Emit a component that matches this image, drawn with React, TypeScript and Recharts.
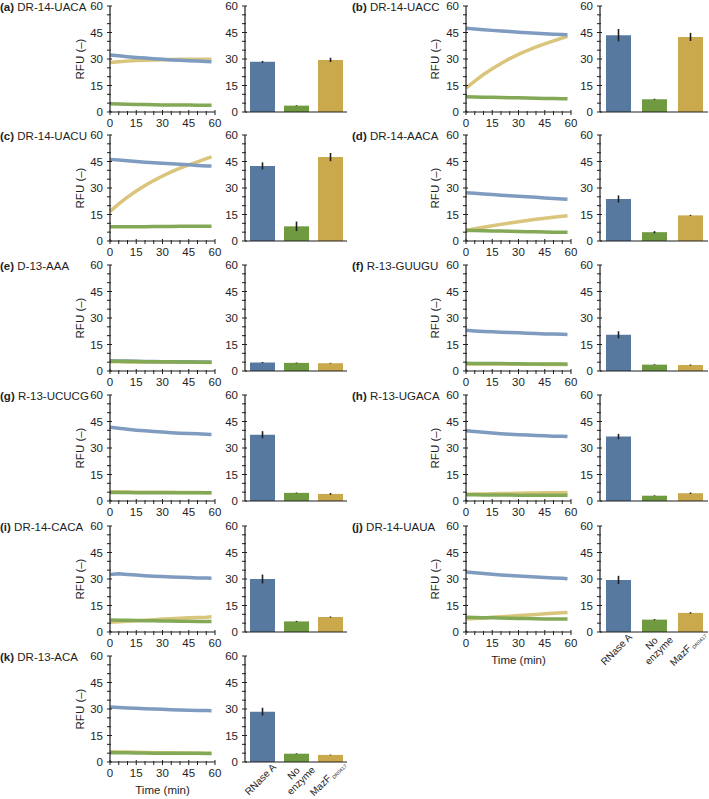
import { LineChart, Line, XAxis, YAxis, BarChart, Bar, Cell, ErrorBar } from "recharts";

// sampling times (min) of the kinetic traces
const TIMES = [0, 5, 10, 15, 20, 25, 30, 35, 40, 45, 50, 55, 58];
const TICKS = [0, 5, 10, 15, 20, 25, 30, 35, 40, 45, 50, 55, 60];
const GROUPS = ["RNase A", "No enzyme", "MazF"];

// (a) DR-14-UACA
const UACA_RNASE = [32.3, 31.8, 31.3, 30.9, 30.5, 30.1, 29.8, 29.5, 29.3, 29.0, 28.8, 28.6, 28.5];
const UACA_NONE = [4.6, 4.5, 4.4, 4.3, 4.2, 4.1, 4.0, 4.0, 3.9, 3.9, 3.8, 3.8, 3.8];
const UACA_MAZF = [28.0, 28.4, 28.8, 29.1, 29.3, 29.5, 29.6, 29.7, 29.8, 29.8, 29.9, 29.9, 29.9];
const UACA_BARS = [28.4, 3.6, 29.5];
const UACA_ERR = [0.5, 0.2, 1.2];

// (b) DR-14-UACC
const UACC_RNASE = [47.4, 47.0, 46.6, 46.2, 45.8, 45.5, 45.2, 44.9, 44.6, 44.3, 44.0, 43.8, 43.7];
const UACC_NONE = [8.6, 8.5, 8.4, 8.3, 8.2, 8.1, 8.0, 7.9, 7.8, 7.7, 7.6, 7.5, 7.5];
const UACC_MAZF = [13.5, 17.5, 21.2, 24.5, 27.5, 30.2, 32.6, 34.8, 36.8, 38.6, 40.3, 41.9, 42.8];
const UACC_BARS = [43.5, 7.2, 42.5];
const UACC_ERR = [3.5, 0.3, 2.3];

// (c) DR-14-UACU
const UACU_RNASE = [46.2, 45.8, 45.4, 45.0, 44.6, 44.3, 44.0, 43.7, 43.4, 43.1, 42.8, 42.5, 42.4];
const UACU_NONE = [8.0, 8.0, 8.1, 8.1, 8.1, 8.2, 8.2, 8.2, 8.3, 8.3, 8.3, 8.4, 8.4];
const UACU_MAZF = [16.8, 21.0, 24.8, 28.3, 31.4, 34.2, 36.8, 39.1, 41.2, 43.1, 44.8, 46.6, 47.6];
const UACU_BARS = [42.5, 8.3, 47.5];
const UACU_ERR = [2.0, 2.7, 2.3];

// (d) DR-14-AACA
const AACA_RNASE = [27.3, 27.0, 26.6, 26.3, 25.9, 25.6, 25.3, 25.0, 24.7, 24.4, 24.1, 23.8, 23.6];
const AACA_NONE = [6.0, 5.9, 5.8, 5.7, 5.6, 5.5, 5.4, 5.3, 5.2, 5.1, 5.0, 5.0, 4.9];
const AACA_MAZF = [6.0, 6.9, 7.8, 8.6, 9.4, 10.2, 10.9, 11.6, 12.3, 12.9, 13.5, 14.0, 14.3];
const AACA_BARS = [23.8, 5.0, 14.5];
const AACA_ERR = [2.0, 0.6, 0.3];

// (e) D-13-AAA
const AAA_RNASE = [5.8, 5.7, 5.6, 5.5, 5.4, 5.4, 5.3, 5.3, 5.2, 5.2, 5.1, 5.1, 5.0];
const AAA_NONE = [5.5, 5.5, 5.4, 5.4, 5.3, 5.3, 5.2, 5.2, 5.1, 5.1, 5.0, 5.0, 5.0];
const AAA_MAZF = [5.2, 5.2, 5.1, 5.1, 5.1, 5.0, 5.0, 5.0, 4.9, 4.9, 4.9, 4.8, 4.8];
const AAA_BARS = [4.8, 4.6, 4.4];
const AAA_ERR = [0.3, 0.2, 0.2];

// (f) R-13-GUUGU
const GUUGU_RNASE = [23.0, 22.7, 22.4, 22.2, 22.0, 21.8, 21.6, 21.4, 21.2, 21.0, 20.9, 20.8, 20.7];
const GUUGU_NONE = [4.4, 4.3, 4.3, 4.2, 4.2, 4.1, 4.1, 4.0, 4.0, 3.9, 3.9, 3.9, 3.8];
const GUUGU_MAZF = [4.0, 4.0, 4.0, 3.9, 3.9, 3.9, 3.8, 3.8, 3.8, 3.7, 3.7, 3.7, 3.7];
const GUUGU_BARS = [20.5, 3.6, 3.4];
const GUUGU_ERR = [2.0, 0.2, 0.3];

// (g) R-13-UCUCG
const UCUCG_RNASE = [41.8, 41.2, 40.6, 40.1, 39.7, 39.3, 39.0, 38.7, 38.4, 38.2, 38.0, 37.8, 37.7];
const UCUCG_NONE = [4.8, 4.8, 4.8, 4.7, 4.7, 4.7, 4.7, 4.6, 4.6, 4.6, 4.6, 4.6, 4.6];
const UCUCG_MAZF = [5.2, 5.1, 5.1, 5.0, 5.0, 4.9, 4.9, 4.9, 4.8, 4.8, 4.8, 4.7, 4.7];
const UCUCG_BARS = [37.5, 4.6, 4.0];
const UCUCG_ERR = [2.0, 0.2, 0.5];

// (h) R-13-UGACA
const UGACA_RNASE = [39.8, 39.3, 38.9, 38.5, 38.1, 37.8, 37.5, 37.3, 37.1, 36.9, 36.7, 36.6, 36.5];
const UGACA_NONE = [3.5, 3.5, 3.4, 3.4, 3.4, 3.4, 3.3, 3.3, 3.3, 3.3, 3.3, 3.3, 3.3];
const UGACA_MAZF = [3.8, 3.9, 4.0, 4.1, 4.2, 4.3, 4.4, 4.5, 4.5, 4.6, 4.7, 4.7, 4.8];
const UGACA_BARS = [36.5, 3.0, 4.4];
const UGACA_ERR = [1.5, 0.2, 0.4];

// (i) DR-14-CACA
const CACA_RNASE = [32.5, 33.0, 32.6, 32.2, 31.9, 31.6, 31.4, 31.2, 31.0, 30.8, 30.6, 30.5, 30.4];
const CACA_NONE = [6.8, 6.7, 6.6, 6.5, 6.4, 6.3, 6.2, 6.2, 6.1, 6.1, 6.0, 6.0, 6.0];
const CACA_MAZF = [5.5, 5.8, 6.1, 6.4, 6.7, 7.0, 7.3, 7.5, 7.8, 8.0, 8.2, 8.4, 8.6];
const CACA_BARS = [30.0, 6.0, 8.5];
const CACA_ERR = [2.5, 0.3, 0.3];

// (j) DR-14-UAUA
const UAUA_RNASE = [34.0, 33.5, 33.1, 32.7, 32.3, 32.0, 31.7, 31.4, 31.1, 30.8, 30.6, 30.4, 30.2];
const UAUA_NONE = [8.3, 8.2, 8.1, 8.0, 7.9, 7.8, 7.7, 7.6, 7.5, 7.4, 7.4, 7.3, 7.3];
const UAUA_MAZF = [7.3, 7.6, 7.9, 8.3, 8.6, 8.9, 9.3, 9.6, 9.9, 10.3, 10.6, 10.9, 11.1];
const UAUA_BARS = [29.5, 7.0, 10.8];
const UAUA_ERR = [2.3, 0.3, 0.4];

// (k) DR-13-ACA
const ACA_RNASE = [31.2, 30.9, 30.6, 30.4, 30.2, 30.0, 29.8, 29.6, 29.5, 29.3, 29.2, 29.1, 29.0];
const ACA_NONE = [5.3, 5.2, 5.2, 5.1, 5.1, 5.0, 5.0, 5.0, 4.9, 4.9, 4.9, 4.8, 4.8];
const ACA_MAZF = [5.8, 5.7, 5.6, 5.5, 5.4, 5.3, 5.3, 5.2, 5.1, 5.1, 5.0, 5.0, 4.9];
const ACA_BARS = [28.5, 4.7, 4.0];
const ACA_ERR = [2.2, 0.2, 0.2];

const PANELS = [
  { tag: "a", name: "DR-14-UACA", rnase: UACA_RNASE, none: UACA_NONE, mazf: UACA_MAZF, bars: UACA_BARS, err: UACA_ERR },
  { tag: "b", name: "DR-14-UACC", rnase: UACC_RNASE, none: UACC_NONE, mazf: UACC_MAZF, bars: UACC_BARS, err: UACC_ERR },
  { tag: "c", name: "DR-14-UACU", rnase: UACU_RNASE, none: UACU_NONE, mazf: UACU_MAZF, bars: UACU_BARS, err: UACU_ERR },
  { tag: "d", name: "DR-14-AACA", rnase: AACA_RNASE, none: AACA_NONE, mazf: AACA_MAZF, bars: AACA_BARS, err: AACA_ERR },
  { tag: "e", name: "D-13-AAA", rnase: AAA_RNASE, none: AAA_NONE, mazf: AAA_MAZF, bars: AAA_BARS, err: AAA_ERR },
  { tag: "f", name: "R-13-GUUGU", rnase: GUUGU_RNASE, none: GUUGU_NONE, mazf: GUUGU_MAZF, bars: GUUGU_BARS, err: GUUGU_ERR },
  { tag: "g", name: "R-13-UCUCG", rnase: UCUCG_RNASE, none: UCUCG_NONE, mazf: UCUCG_MAZF, bars: UCUCG_BARS, err: UCUCG_ERR },
  { tag: "h", name: "R-13-UGACA", rnase: UGACA_RNASE, none: UGACA_NONE, mazf: UGACA_MAZF, bars: UGACA_BARS, err: UGACA_ERR },
  { tag: "i", name: "DR-14-CACA", rnase: CACA_RNASE, none: CACA_NONE, mazf: CACA_MAZF, bars: CACA_BARS, err: CACA_ERR },
  { tag: "j", name: "DR-14-UAUA", rnase: UAUA_RNASE, none: UAUA_NONE, mazf: UAUA_MAZF, bars: UAUA_BARS, err: UAUA_ERR },
  { tag: "k", name: "DR-13-ACA", rnase: ACA_RNASE, none: ACA_NONE, mazf: ACA_MAZF, bars: ACA_BARS, err: ACA_ERR },
];

const FONT = "'Liberation Sans', Arial, Helvetica, sans-serif";
const INK = "#1e1e1e";
const BAR_COLORS = ["#58799f", "#6f9a40", "#c9a94c"];
const LINE_COLORS = { rnase: "#7f9cc0", none: "#83a957", mazf: "#dac57c" };

const ROW_TOPS = [6, 135, 265, 395, 526, 656];
const PLOT_H = 106;
const COLS = [
  { label: 0, lineLeft: 60, lineAxis: 110, lineW: 105, rfuX: 80, barLeft: 205, barAxis: 245, barW: 102 },
  { label: 352, lineLeft: 416, lineAxis: 466, lineW: 105, rfuX: 435, barLeft: 560, barAxis: 600, barW: 108 },
];
const BAR_RIGHT = 8;

const YTick = (p: any) => {
  const v = p.payload.value;
  const ax = p.x + 6;
  const major = v % 15 === 0;
  return (
    <g>
      <line x1={ax - 3} x2={ax + (major ? 2 : 1)} y1={p.y} y2={p.y} stroke={INK} strokeWidth={1} />
      {major && (
        <text x={p.x - 1} y={p.y} dy={4} textAnchor="end" fontSize={11.5} fontFamily={FONT} fill={INK}>
          {v}
        </text>
      )}
    </g>
  );
};

const XTick = (p: any) => {
  const v = p.payload.value;
  const ay = p.y - 6;
  const major = v % 15 === 0;
  return (
    <g>
      <line x1={p.x} x2={p.x} y1={ay - (major ? 2 : 1)} y2={ay + 3} stroke={INK} strokeWidth={1} />
      {major && (
        <text x={p.x} y={p.y} dy={9} textAnchor="middle" fontSize={11.5} fontFamily={FONT} fill={INK}>
          {v}
        </text>
      )}
    </g>
  );
};

const GroupTick = (p: any) => {
  const v = p.payload.value;
  const t = `translate(${p.x + 12},${p.y - 3}) rotate(-45)`;
  if (v === "RNase A") {
    return (
      <g transform={t}>
        <text textAnchor="end" dy={4} fontSize={10} fontFamily={FONT} fill={INK}>RNase A</text>
      </g>
    );
  }
  if (v === "No enzyme") {
    return (
      <g transform={t}>
        <text textAnchor="middle" fontSize={10} fontFamily={FONT} fill={INK}>
          <tspan x={-16} dy={-1}>No</tspan>
          <tspan x={-16} dy={10.5}>enzyme</tspan>
        </text>
      </g>
    );
  }
  return (
    <g transform={`translate(${p.x + 13},${p.y - 6}) rotate(-45)`}>
      <text textAnchor="end" dy={4} fontSize={10} fontFamily={FONT} fill={INK}>
        MazF
        <tspan fontSize={5} dx={1.5} dy={2}>DR0417</tspan>
      </text>
    </g>
  );
};

function Panel({ p, idx }: { p: (typeof PANELS)[number]; idx: number }) {
  const col = COLS[idx % 2];
  const top = ROW_TOPS[Math.floor(idx / 2)];
  const bottom = p.tag === "j" || p.tag === "k";
  const lineData = TIMES.map((t, i) => ({ t, rnase: p.rnase[i], none: p.none[i], mazf: p.mazf[i] }));
  const barData = GROUPS.map((g, i) => ({ name: g, value: p.bars[i], err: p.err[i] }));
  const yAxisW = col.lineAxis - col.lineLeft;
  const barYAxisW = col.barAxis - col.barLeft;
  const barXH = bottom ? 44 : 12;

  return (
    <>
      <div
        style={{ position: "absolute", left: col.label, top: top - 5, fontSize: 11.5, lineHeight: "12px", fontFamily: FONT, color: INK, whiteSpace: "nowrap" }}
      >
        <b>({p.tag})</b> {p.name}
      </div>
      <div
        style={{
          position: "absolute", left: col.rfuX, top: top + 53, transform: "translate(-50%,-50%) rotate(-90deg)",
          fontSize: 11.5, fontFamily: FONT, color: INK, whiteSpace: "nowrap",
        }}
      >
        RFU (–)
      </div>
      {bottom && (
        <div
          style={{
            position: "absolute", left: col.lineAxis + col.lineW / 2, top: top + PLOT_H + 22, transform: "translateX(-50%)",
            fontSize: 11.5, fontFamily: FONT, color: INK, whiteSpace: "nowrap",
          }}
        >
          Time (min)
        </div>
      )}
      <div style={{ position: "absolute", left: col.lineLeft, top: top - 8 }}>
        <LineChart
          width={yAxisW + col.lineW + 10}
          height={8 + PLOT_H + 22}
          data={lineData}
          margin={{ top: 8, right: 10, bottom: 0, left: 0 }}
        >
          <XAxis
            dataKey="t" type="number" domain={[0, 60]} ticks={TICKS} interval={0}
            tickSize={0} tickMargin={6} tickLine={false} tick={<XTick />}
            axisLine={{ stroke: INK, strokeWidth: 1.2 }} height={22}
          />
          <YAxis
            type="number" domain={[0, 60]} ticks={TICKS} interval={0} width={yAxisW}
            tickSize={0} tickMargin={6} tickLine={false} tick={<YTick />}
            axisLine={{ stroke: INK, strokeWidth: 1.2 }}
          />
          <Line dataKey="mazf" stroke={LINE_COLORS.mazf} strokeWidth={3.5} dot={false} isAnimationActive={false} />
          <Line dataKey="rnase" stroke={LINE_COLORS.rnase} strokeWidth={3.5} dot={false} isAnimationActive={false} />
          <Line dataKey="none" stroke={LINE_COLORS.none} strokeWidth={3.5} dot={false} isAnimationActive={false} />
        </LineChart>
      </div>
      <div style={{ position: "absolute", left: col.barLeft, top: top - 8 }}>
        <BarChart
          width={barYAxisW + col.barW + BAR_RIGHT}
          height={8 + PLOT_H + barXH}
          data={barData}
          margin={{ top: 8, right: BAR_RIGHT, bottom: 0, left: 0 }}
        >
          <XAxis
            dataKey="name" interval={0} height={barXH} tickSize={0} tickMargin={6} tickLine={false}
            tick={bottom ? <GroupTick /> : false}
            axisLine={{ stroke: INK, strokeWidth: 1.2 }}
          />
          <YAxis
            type="number" domain={[0, 60]} ticks={TICKS} interval={0} width={barYAxisW}
            tickSize={0} tickMargin={6} tickLine={false} tick={<YTick />}
            axisLine={{ stroke: INK, strokeWidth: 1.2 }}
          />
          <Bar dataKey="value" barSize={25} isAnimationActive={false}>
            {barData.map((d, i) => (
              <Cell key={d.name} fill={BAR_COLORS[i]} />
            ))}
            <ErrorBar dataKey="err" width={0} stroke={INK} strokeWidth={1.6} direction="y" />
          </Bar>
        </BarChart>
      </div>
    </>
  );
}

export default function App() {
  return (
    <div style={{ position: "absolute", left: 0, top: 0, width: 709, height: 799, background: "#fff", overflow: "hidden" }}>
      {PANELS.map((p, i) => (
        <Panel key={p.tag} p={p} idx={i} />
      ))}
    </div>
  );
}
